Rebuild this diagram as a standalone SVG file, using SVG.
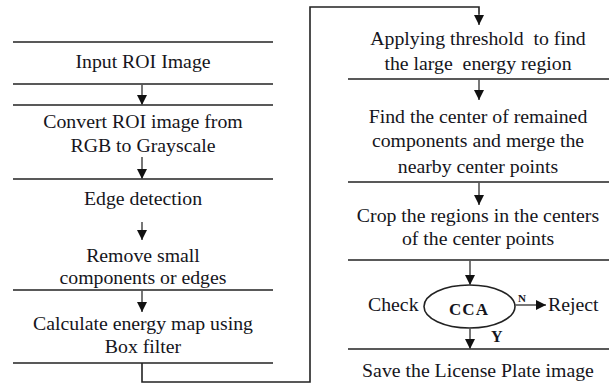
<svg xmlns="http://www.w3.org/2000/svg" width="609" height="389" viewBox="0 0 609 389">
<defs>
<marker id="ah" viewBox="0 0 10 10" refX="10" refY="5" markerWidth="10" markerHeight="10" markerUnits="userSpaceOnUse" orient="auto">
<path d="M0,0 L10,5 L0,10 z" fill="#111"/>
</marker>
<style>
text{font-family:'Liberation Serif','Times New Roman',serif;fill:#151520;white-space:pre}
.t{font-size:19.8px;text-anchor:middle}
.ln{stroke:#222;stroke-width:1.6;fill:none}
.ar{stroke:#555;stroke-width:1.6;fill:none;marker-end:url(#ah)}
</style>
</defs>
<rect width="609" height="389" fill="#fff"/>
<g font-family="Liberation Serif, serif">
<g id="n1">
<line class="ln" x1="13" y1="42" x2="273" y2="42"/>
<text class="t" x="143" y="68">Input ROI Image</text>
<line class="ln" x1="13" y1="84" x2="273" y2="84"/>
</g>
<g id="n2">
<line class="ln" x1="13" y1="105" x2="273" y2="105"/>
<text class="t" x="143" y="128">Convert ROI image from</text>
<text class="t" x="143" y="152">RGB to Grayscale</text>
</g>
<g id="n3">
<line class="ln" x1="13" y1="179" x2="273" y2="179"/>
<text class="t" x="143" y="205">Edge detection</text>
</g>
<g id="n4">
<text class="t" x="143" y="262">Remove small</text>
<text class="t" x="143" y="284">components or edges</text>
<line class="ln" x1="13" y1="290" x2="273" y2="290"/>
</g>
<g id="n5">
<text class="t" x="143" y="330">Calculate energy map using</text>
<text class="t" x="143" y="353">Box filter</text>
<line class="ln" x1="13" y1="363" x2="273" y2="363"/>
</g>
<g id="n6">
<text class="t" x="478" y="45" xml:space="preserve">Applying threshold  to find</text>
<text class="t" x="478" y="70" xml:space="preserve">the large  energy region</text>
<line class="ln" x1="348" y1="79" x2="609" y2="79"/>
</g>
<g id="n7">
<text class="t" x="478" y="123">Find the center of remained</text>
<text class="t" x="478" y="147">components and merge the</text>
<text class="t" x="478" y="173">nearby center points</text>
<line class="ln" x1="348" y1="182" x2="609" y2="182"/>
</g>
<g id="n8">
<text class="t" x="478" y="222">Crop the regions in the centers</text>
<text class="t" x="478" y="245">of the center points</text>
<line class="ln" x1="348" y1="260" x2="609" y2="260"/>
</g>
<g id="n9">
<text x="368" y="311" font-size="19.8">Check</text>
<ellipse cx="469.5" cy="306.5" rx="45.5" ry="21.5" fill="none" stroke="#222" stroke-width="1.6"/>
<text x="469" y="315" font-size="17" font-weight="bold" letter-spacing="1" text-anchor="middle">CCA</text>
</g>
<g id="n10">
<text x="548" y="311" font-size="19.8">Reject</text>
</g>
<g id="n11">
<line class="ln" x1="348" y1="349" x2="609" y2="349"/>
<text class="t" x="478" y="377">Save the License Plate image</text>
</g>
<g id="connectors">
<line class="ar" x1="142" y1="84" x2="142" y2="105"/>
<line class="ar" x1="142" y1="157" x2="142" y2="179"/>
<line class="ar" x1="142" y1="222" x2="142" y2="240"/>
<line class="ar" x1="142" y1="290" x2="142" y2="312"/>
<polyline class="ln" points="142,363 142,382 310,382 310,7 479,7 479,14"/>
<line class="ar" x1="479" y1="12" x2="479" y2="25"/>
<line class="ar" x1="479" y1="79" x2="479" y2="100"/>
<line class="ar" x1="479" y1="182" x2="479" y2="205"/>
<line class="ar" x1="470" y1="260" x2="470" y2="285"/>
<line class="ar" x1="470" y1="328" x2="470" y2="349"/>
<line class="ar" x1="515" y1="305" x2="546" y2="305"/>
<text x="518" y="302" font-size="11" font-weight="bold">N</text>
<text x="491" y="342" font-size="16" font-weight="bold">Y</text>
</g>
</g>
</svg>
